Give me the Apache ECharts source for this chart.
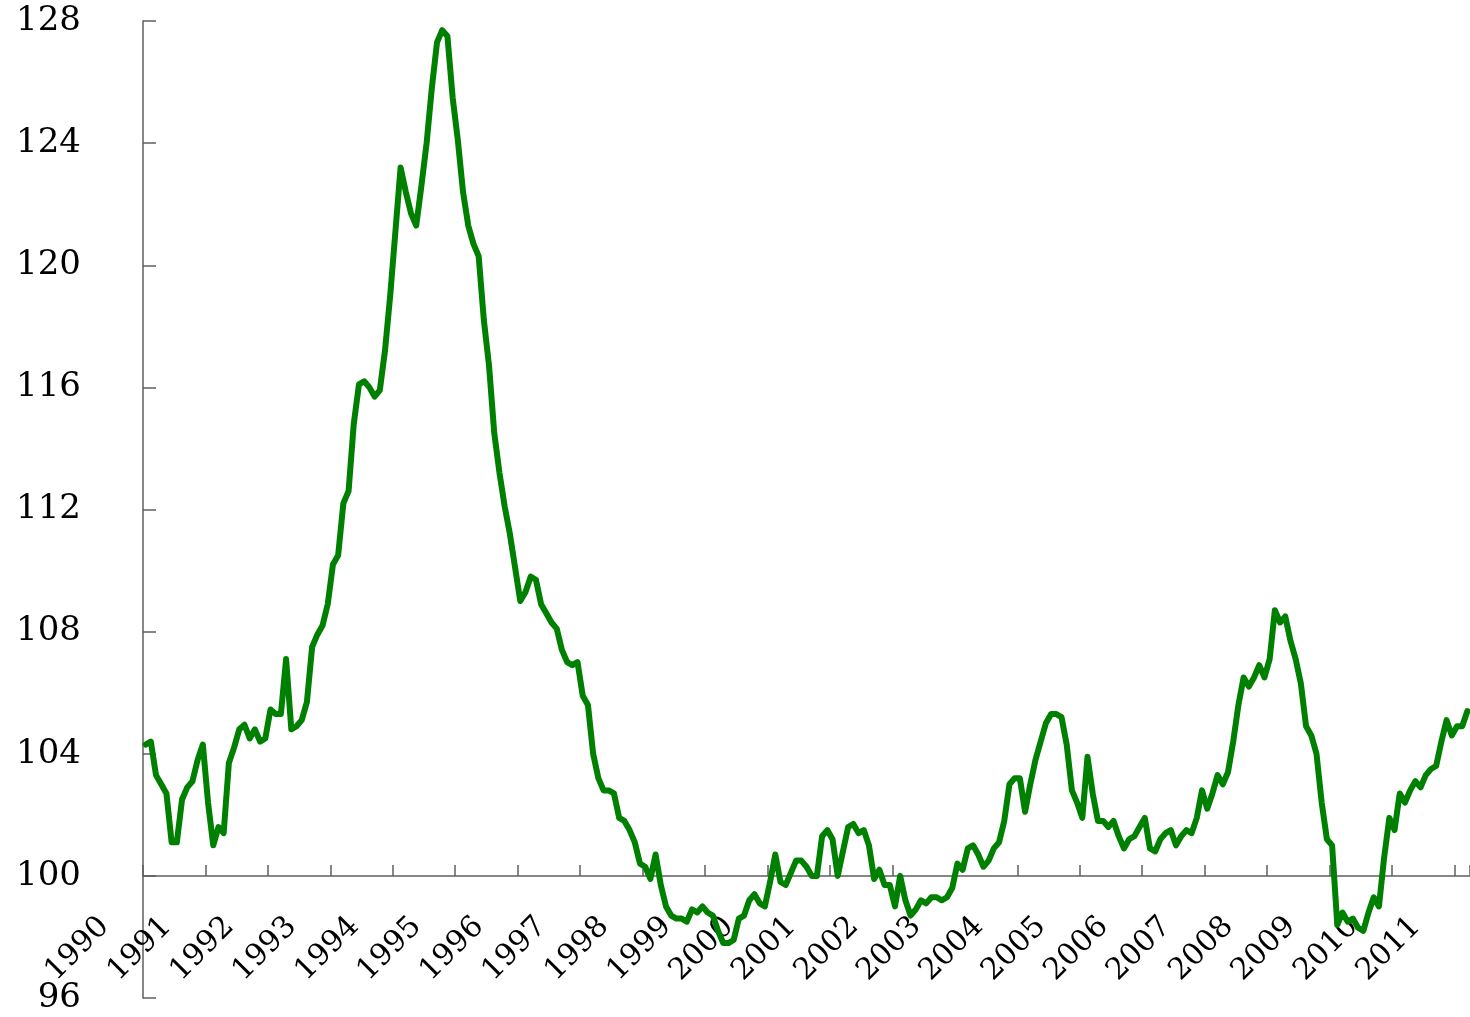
<!DOCTYPE html>
<html>
<head>
<meta charset="utf-8">
<script src="https://cdn.jsdelivr.net/npm/echarts@6/dist/echarts.min.js"></script>
<style>
  html, body { margin: 0; padding: 0; background: #ffffff; }
  #chart { width: 1470px; height: 1017px; }
</style>
</head>
<body>
<div id="chart"></div>
<script>
// Tick labels (one per year boundary on the x axis)
const tickLabels = ['1990','1991','1992','1993','1994','1995','1996','1997','1998','1999','2000',
                    '2001','2002','2003','2004','2005','2006','2007','2008','2009','2010','2011'];

// Monthly index values (previous year = 100)
const v1990 = [104.3,104.4,103.3,103.0,102.7,101.1,101.1,102.5,102.9,103.1,103.8,104.3];
const v1991 = [102.4,101.0,101.6,101.4,103.7,104.2,104.8,104.95,104.5,104.8,104.4,104.5];
const v1992 = [105.45,105.3,105.3,107.1,104.8,104.9,105.1,105.7,107.5,107.9,108.2,108.9];
const v1993 = [110.2,110.5,112.2,112.6,114.8,116.1,116.2,116.0,115.7,115.9,117.2,119.0];
const v1994 = [121.1,123.2,122.4,121.7,121.3,122.6,124.0,125.8,127.3,127.7,127.5,125.5];
const v1995 = [124.1,122.4,121.3,120.7,120.3,118.2,116.7,114.5,113.2,112.1,111.2,110.1];
const v1996 = [109.0,109.3,109.8,109.7,108.9,108.6,108.3,108.1,107.4,107.0,106.9,107.0];
const v1997 = [105.9,105.6,104.0,103.2,102.8,102.8,102.7,101.9,101.8,101.5,101.1,100.4];
const v1998 = [100.3,99.9,100.7,99.7,99.0,98.7,98.6,98.6,98.5,98.9,98.8,99.0];
const v1999 = [98.8,98.7,98.2,97.8,97.8,97.9,98.6,98.7,99.2,99.4,99.1,99.0];
const v2000 = [99.8,100.7,99.8,99.7,100.1,100.5,100.5,100.3,100.0,100.0,101.3,101.5];
const v2001 = [101.2,100.0,100.8,101.6,101.7,101.4,101.5,101.0,99.9,100.2,99.7,99.7];
const v2002 = [99.0,100.0,99.2,98.7,98.9,99.2,99.1,99.3,99.3,99.2,99.3,99.6];
const v2003 = [100.4,100.2,100.9,101.0,100.7,100.3,100.5,100.9,101.1,101.8,103.0,103.2];
const v2004 = [103.2,102.1,103.0,103.8,104.4,105.0,105.3,105.3,105.2,104.3,102.8,102.4];
const v2005 = [101.9,103.9,102.7,101.8,101.8,101.6,101.8,101.3,100.9,101.2,101.3,101.6];
const v2006 = [101.9,100.9,100.8,101.2,101.4,101.5,101.0,101.3,101.5,101.4,101.9,102.8];
const v2007 = [102.2,102.7,103.3,103.0,103.4,104.4,105.6,106.5,106.2,106.5,106.9,106.5];
const v2008 = [107.1,108.7,108.3,108.5,107.7,107.1,106.3,104.9,104.6,104.0,102.4,101.2];
const v2009 = [101.0,98.4,98.8,98.5,98.6,98.3,98.2,98.8,99.3,99.0,100.6,101.9];
const v2010 = [101.5,102.7,102.4,102.8,103.1,102.9,103.3,103.5,103.6,104.4,105.1,104.6];
const v2011 = [104.9,104.9,105.4];

const yearly = [v1990,v1991,v1992,v1993,v1994,v1995,v1996,v1997,v1998,v1999,v2000,
                v2001,v2002,v2003,v2004,v2005,v2006,v2007,v2008,v2009,v2010,v2011];

// Build category list (one per month) and the value series
const categories = [];
const values = [];
yearly.forEach(function (arr, yi) {
  arr.forEach(function (v, mi) {
    categories.push(tickLabels[yi] + '-' + String(mi + 1).padStart(2, '0'));
    values.push(v);
  });
});

const axisColor = '#5f5f5f';
const fontFam = '"DejaVu Serif", "Liberation Serif", serif';

const chart = echarts.init(document.getElementById('chart'), null, { renderer: 'canvas' });
chart.setOption({
  animation: false,
  backgroundColor: '#ffffff',
  grid: { left: 143, right: 0, top: 21, bottom: 19, containLabel: false },
  xAxis: {
    type: 'category',
    data: categories,
    boundaryGap: true,
    position: 'bottom',
    offset: -122,
    axisLine: { show: true, onZero: false, lineStyle: { color: axisColor, width: 1.5 } },
    axisTick: {
      show: true, inside: true, length: 11,
      interval: function (i) { return i % 12 === 0; },
      lineStyle: { color: axisColor, width: 1.5 }
    },
    axisLabel: {
      interval: function (i) { return i % 12 === 0; },
      rotate: 45,
      margin: 5,
      padding: [0, 58, 0, 0],
      hideOverlap: false,
      fontFamily: fontFam,
      fontSize: 30,
      color: '#000000',
      formatter: function (v) { return v.slice(0, 4); }
    },
    splitLine: { show: false }
  },
  yAxis: {
    type: 'value',
    min: 96, max: 128, interval: 4,
    axisLine: { show: true, lineStyle: { color: axisColor, width: 1.5 } },
    axisTick: { show: true, inside: true, length: 13, lineStyle: { color: axisColor, width: 1.5 } },
    axisLabel: { margin: 62, padding: [4, 0, 0, 0], fontFamily: fontFam, fontSize: 34, color: '#000000' },
    splitLine: { show: false }
  },
  series: [{
    type: 'line',
    data: values,
    symbol: 'none',
    smooth: false,
    lineStyle: { color: '#008000', width: 6, join: 'round', cap: 'round' },
    itemStyle: { color: '#008000' }
  }]
});
</script>
</body>
</html>
